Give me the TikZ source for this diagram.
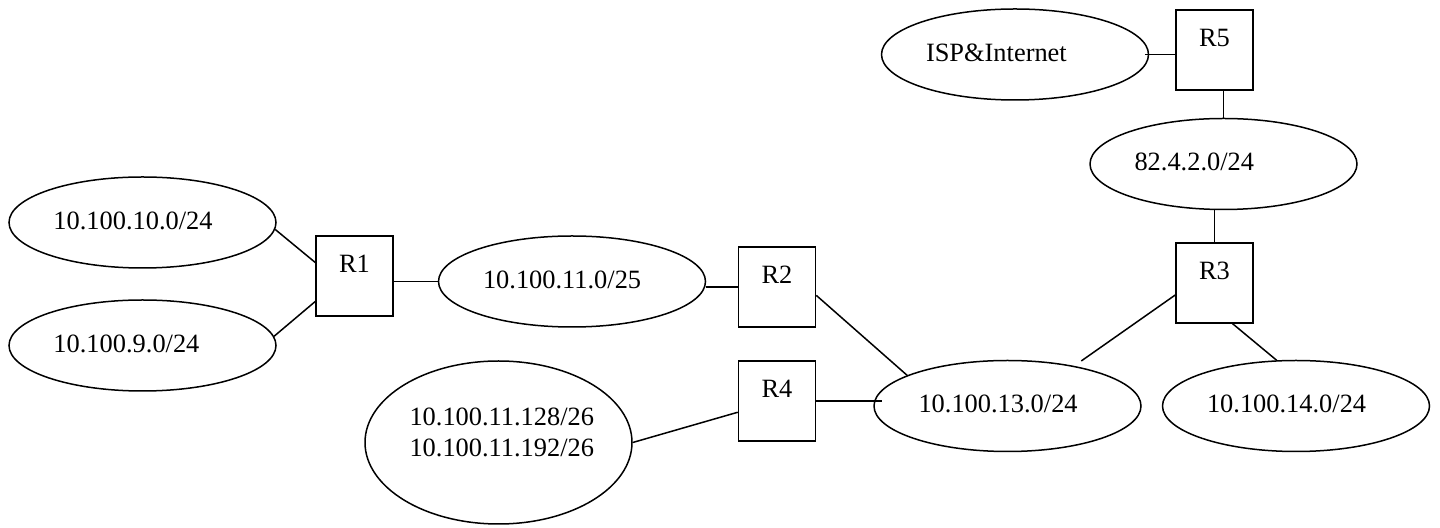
\documentclass[tikz,border=0pt]{standalone}
\usepackage{fontspec}
\setmainfont{Liberation Serif}
\usetikzlibrary{shapes.geometric}

\tikzset{
    router/.style={draw, line width=0.75pt, rectangle, inner sep=0pt, minimum width=38.5pt, minimum height=40pt, text depth=12pt},
    subnet/.style={draw, line width=0.75pt, ellipse, inner sep=0pt, minimum width=133.5pt, minimum height=45.5pt, text width=89pt, align=left, text depth=2pt},
    link/.style={line width=0.75pt},
}

\begin{document}
\begin{tikzpicture}[x=0.5pt, y=-0.5pt, every node/.style={font=\fontsize{13.2}{15.5}\selectfont}]
    \useasboundingbox (0,0) rectangle (1440,528);

    % routers
    \node[router] (R1) at (354.5,276) {R1};
    \node[router] (R2) at (777,287) {R2};
    \node[router] (R3) at (1214.5,283) {R3};
    \node[router] (R4) at (777,401) {R4};
    \node[router] (R5) at (1214.5,50) {R5};

    % subnets
    \node[subnet] (isp) at (1015,54.5) {ISP\&Internet};
    \node[subnet] (net82) at (1223.5,164) {82.4.2.0/24};
    \node[subnet] (net10) at (142.5,222.5) {10.100.10.0/24};
    \node[subnet] (net9) at (142.5,345.5) {10.100.9.0/24};
    \node[subnet] (net11) at (572,281.5) {10.100.11.0/25};
    \node[subnet, minimum height=81.5pt, text depth=25.5pt] (net11hi) at (498.5,442.5) {10.100.11.128/26\\10.100.11.192/26};
    \node[subnet] (net13) at (1007.5,406) {10.100.13.0/24};
    \node[subnet] (net14) at (1296,406) {10.100.14.0/24};

    % links
    \draw[link] (net10.-3) -- (R1.161);
    \draw[link] (net9.4) -- (R1.213);
    \draw[link] (net11.west -| R1.east) -- (net11.west);
    \draw[link] (net11.east |- R2.west) -- (R2.west);
    \draw[link] (R2.-12) -- (net13.163);
    \draw[link] (R4.east) -- ([xshift=4.5pt]R4.east -| net13.west);
    \draw[link] (net11hi.east) -- (R4.196);
    \draw[link, shorten >=4.3pt] (R3.197) -- (net13.31);
    \draw[link] (R3.-66) -- (net14.113);
    \draw[link] (net82.south -| R3.north) -- (R3.north);
    \draw[link] (R5.south -| net82.north) -- (net82.north);
    \draw[link] ([xshift=-2pt]isp.east) -- (isp.east -| R5.west);
\end{tikzpicture}
\end{document}
